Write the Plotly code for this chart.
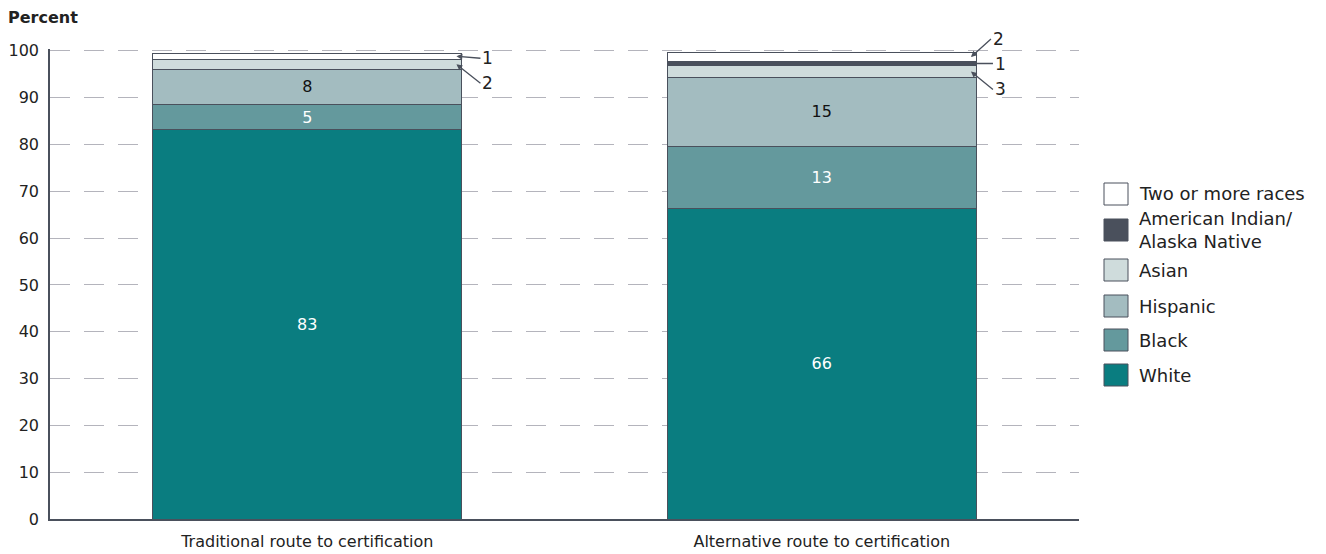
import plotly.graph_objects as go

# Data (percent of teachers by race/ethnicity)
routes = ["Traditional route to certification", "Alternative route to certification"]
white = [83.2, 66.4]
black = [5.3, 13.2]
hispanic = [7.6, 14.7]
asian = [2.1, 2.6]
aian = [0.0, 0.8]
two_more = [1.3, 2.0]

series = [
    ("White", white, "#0a7d80", "white", True),
    ("Black", black, "#64999d", "white", True),
    ("Hispanic", hispanic, "#a3bcc0", "#111111", True),
    ("Asian", asian, "#cfdcdc", "#111111", False),
    ("American Indian/<br>Alaska Native", aian, "#4a505c", "white", False),
    ("Two or more races", two_more, "#ffffff", "#111111", False),
]

FONT = "DejaVu Sans"
EDGE = "#4a505c"

fig = go.Figure()
for name, vals, color, tcolor, labelled in series:
    fig.add_trace(go.Bar(
        x=routes, y=vals, name=name,
        marker=dict(color=color, line=dict(color=EDGE, width=1)),
        text=[str(round(v)) for v in vals] if labelled else None,
        textposition="inside", insidetextanchor="middle", textangle=0,
        constraintext="none",
        textfont=dict(color=tcolor, size=16, family=FONT),
        width=0.6, showlegend=False,
    ))

# callouts for thin segments
def stack_mid(i, upto):
    below = sum(s[1][i] for s in series[:upto])
    return below + series[upto][1][i] / 2

callouts = [
    (0, 5, 24, 2),    # two or more, traditional
    (0, 3, 24, 19),   # asian, traditional
    (1, 5, 20, -18),  # two or more, alternative
    (1, 4, 22, 0),    # AIAN, alternative
    (1, 3, 22, 18),   # asian, alternative
]
for i, k, ax, ay in callouts:
    fig.add_annotation(
        x=i + 0.29, y=stack_mid(i, k), xref="x", yref="y",
        text=str(round(series[k][1][i])), showarrow=True,
        ax=ax, ay=ay, arrowhead=2, arrowsize=0.9, arrowwidth=1.3,
        arrowcolor=EDGE, xanchor="left", font=dict(size=17, color="#222", family=FONT),
    )

# custom legend (top to bottom), positions in screen pixels
legend_rows = [
    ("Two or more races", "#ffffff", 194),
    ("American Indian/<br>Alaska Native", "#4a505c", 230),
    ("Asian", "#cfdcdc", 270),
    ("Hispanic", "#a3bcc0", 306),
    ("Black", "#64999d", 340),
    ("White", "#0a7d80", 375),
]
OFF = 8  # page body margin
L, R, T, B = 50 - OFF, 1079 - OFF, 49 - OFF, 519 - OFF
px = lambda X: (X - OFF - L) / (R - L)
py = lambda Y: (B - (Y - OFF)) / (B - T)
for label, color, yc in legend_rows:
    fig.add_shape(type="rect", xref="paper", yref="paper",
                  x0=px(1104), x1=px(1128), y0=py(yc + 11), y1=py(yc - 11),
                  fillcolor=color, line=dict(color=EDGE, width=1))
    fig.add_annotation(x=px(1137), y=py(yc), xref="paper", yref="paper",
                       text=label, showarrow=False, xanchor="left", yanchor="middle",
                       align="left", font=dict(size=18, color="#222", family=FONT))

fig.add_annotation(x=px(6), y=py(18), xref="paper", yref="paper", text="<b>Percent</b>",
                   showarrow=False, xanchor="left", yanchor="middle",
                   font=dict(size=16, color="#222", family=FONT))

fig.update_layout(
    barmode="stack", width=1326, height=554,
    margin=dict(l=L, r=1326 - R, t=T, b=554 - B),
    plot_bgcolor="white", paper_bgcolor="white",
    font=dict(family=FONT, size=16, color="#222"),
    bargap=0.4,
)
fig.update_yaxes(range=[0, 100.4], tickvals=list(range(0, 101, 10)), showgrid=True,
                 gridcolor="#b4b4bc", griddash="20px,14px", gridwidth=1,
                 showline=True, linecolor=EDGE, linewidth=1.5, zeroline=False,
                 ticks="", ticklabelstandoff=6, automargin=False,
                 tickfont=dict(size=16, color="#222"))
fig.update_xaxes(showline=True, linecolor=EDGE, linewidth=1.5, ticks="", automargin=False,
                 ticklabelstandoff=7, tickfont=dict(size=16, color="#222"))

fig.write_html("out.html")
